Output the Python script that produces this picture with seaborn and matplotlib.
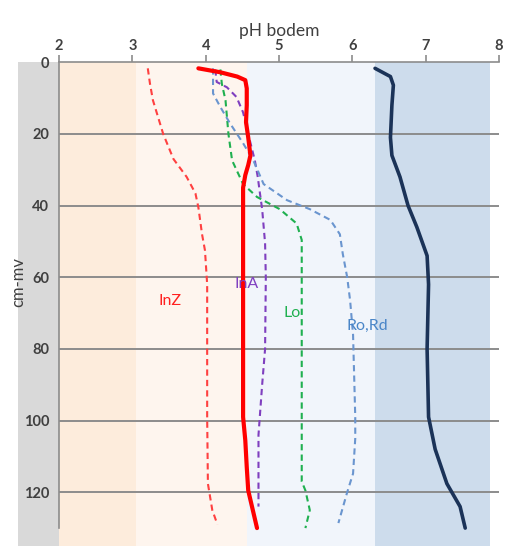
import numpy as np
import pandas as pd
import seaborn as sns
import matplotlib.pyplot as plt
from matplotlib.patches import Rectangle

# pH-profielen per bodemtype (diepte in cm-mv)
inz_depth = [1.7, 6, 10.6, 20, 27, 32, 36.6, 40.5, 48, 52.5, 62, 80, 99, 117.6, 125, 129]
inz_ph = [3.21, 3.24, 3.28, 3.42, 3.56, 3.74, 3.86, 3.90, 3.95, 3.99, 4.02, 4.02, 4.02, 4.03, 4.09, 4.16]

ina_depth = [2, 5.5, 7, 9.7, 14, 20, 27.4, 32, 36.6, 41, 50.5, 60, 80, 90, 104, 124]
ina_ph = [4.13, 4.15, 4.29, 4.42, 4.51, 4.58, 4.67, 4.71, 4.74, 4.77, 4.81, 4.82, 4.81, 4.77, 4.72, 4.72]

lo_depth = [2, 6, 10.6, 20, 27.4, 34, 37.6, 41, 45, 49.6, 60, 90, 117, 119.5, 125, 130]
lo_ph = [4.20, 4.22, 4.27, 4.31, 4.36, 4.51, 4.70, 5.01, 5.24, 5.31, 5.31, 5.31, 5.31, 5.36, 5.42, 5.36]

rord_depth = [1.7, 8.7, 12.5, 17, 22.6, 27.4, 34, 38.5, 41, 44, 48, 53.5, 60, 66.5, 76, 99, 105, 114.8, 120, 128.6]
rord_ph = [4.10, 4.10, 4.20, 4.33, 4.51, 4.65, 4.79, 5.11, 5.42, 5.70, 5.83, 5.87, 5.93, 5.97, 6.01, 6.04, 6.04, 6.01, 5.93, 5.81]

gem_depth = [1.7, 2.8, 4, 5, 7.3, 12, 16.7, 21, 26, 28.7, 31.5, 35, 60, 99, 105.5, 113, 119.5, 130]
gem_ph = [3.90, 4.20, 4.43, 4.54, 4.56, 4.56, 4.55, 4.58, 4.61, 4.58, 4.54, 4.51, 4.51, 4.51, 4.54, 4.56, 4.58, 4.70]

kalk_depth = [1.7, 4, 6.4, 12, 21, 26, 32, 40, 46, 54, 62, 80, 99, 108, 117.6, 124, 130]
kalk_ph = [6.31, 6.52, 6.56, 6.54, 6.52, 6.54, 6.65, 6.76, 6.88, 7.02, 7.04, 7.02, 7.04, 7.13, 7.29, 7.47, 7.54]

labels = ["InZ", "InA", "Lo", "Ro,Rd"]
label_ph = [3.51, 4.56, 5.18, 6.2]
label_depth = [66.5, 62, 70, 73.5]
label_colors = ["#ff2020", "#8040c0", "#20b050", "#4a86c8"]

sns.set_style("white")
plt.rcParams["font.family"] = ["Lato", "DejaVu Sans"]

fig = plt.figure(figsize=(5.05, 5.46), dpi=100)
ax = fig.add_axes([0.117, 0.0, 0.871, 0.886])

# achtergrondbanden
ax.axvspan(2, 3.05, color="#fdecdc", lw=0, zorder=0)
ax.axvspan(3.05, 4.56, color="#fef5ee", lw=0, zorder=0)
ax.axvspan(4.56, 6.31, color="#f1f5fb", lw=0, zorder=0)
ax.axvspan(6.31, 7.88, color="#cddcec", lw=0, zorder=0)
ax.add_patch(Rectangle((1.44, 0), 0.56, 135, color="#d9d9d9", lw=0, clip_on=False, zorder=0))

for d in [20, 40, 60, 80, 100, 120]:
    ax.axhline(d, color="#8c8c8c", lw=1.4, zorder=1)

dash = (3, 2)
sns.lineplot(x=inz_ph, y=inz_depth, orient="y", estimator=None, sort=False, ax=ax,
             color="#ff4040", lw=1.5, linestyle=(0, dash))
sns.lineplot(x=ina_ph, y=ina_depth, orient="y", estimator=None, sort=False, ax=ax,
             color="#7f3fbf", lw=1.5, linestyle=(0, dash))
sns.lineplot(x=lo_ph, y=lo_depth, orient="y", estimator=None, sort=False, ax=ax,
             color="#20b050", lw=1.5, linestyle=(0, dash))
sns.lineplot(x=rord_ph, y=rord_depth, orient="y", estimator=None, sort=False, ax=ax,
             color="#6a95cf", lw=1.5, linestyle=(0, dash))
sns.lineplot(x=gem_ph, y=gem_depth, orient="y", estimator=None, sort=False, ax=ax,
             color="#ff0000", lw=3)
sns.lineplot(x=kalk_ph, y=kalk_depth, orient="y", estimator=None, sort=False, ax=ax,
             color="#1b3358", lw=2.6)

for lab, px, dy, c in zip(labels, label_ph, label_depth, label_colors):
    ax.text(px, dy, lab, color=c, fontsize=11.5, ha="center", va="center")

ax.set_xlim(2, 8)
ax.set_ylim(135, 0)
ax.xaxis.tick_top()
ax.xaxis.set_label_position("top")
ax.set_xticks(range(2, 9))
ax.set_yticks(range(0, 121, 20))
ax.tick_params(axis="both", direction="out", length=5, color="#8c8c8c", width=1.2,
               labelsize=10.5, labelcolor="#404040", pad=2)
for t in ax.get_xticklabels() + ax.get_yticklabels():
    t.set_fontweight("bold")
ax.set_xlabel("pH bodem", fontsize=12.5, color="#404040", labelpad=2)
ax.set_ylabel("")
fig.text(18 / 505, 1 - 282 / 546, "cm-mv", rotation=90, fontsize=12, color="#404040",
         ha="center", va="center")

for s in ["right", "bottom"]:
    ax.spines[s].set_visible(False)
ax.spines["top"].set_color("#8c8c8c")
ax.spines["top"].set_linewidth(1.2)
ax.spines["left"].set_color("#8c8c8c")
ax.spines["left"].set_linewidth(1.2)
ax.spines["left"].set_bounds(0, 130)
ax.spines["left"].set_zorder(3)

fig.savefig("out.png", dpi=100)
